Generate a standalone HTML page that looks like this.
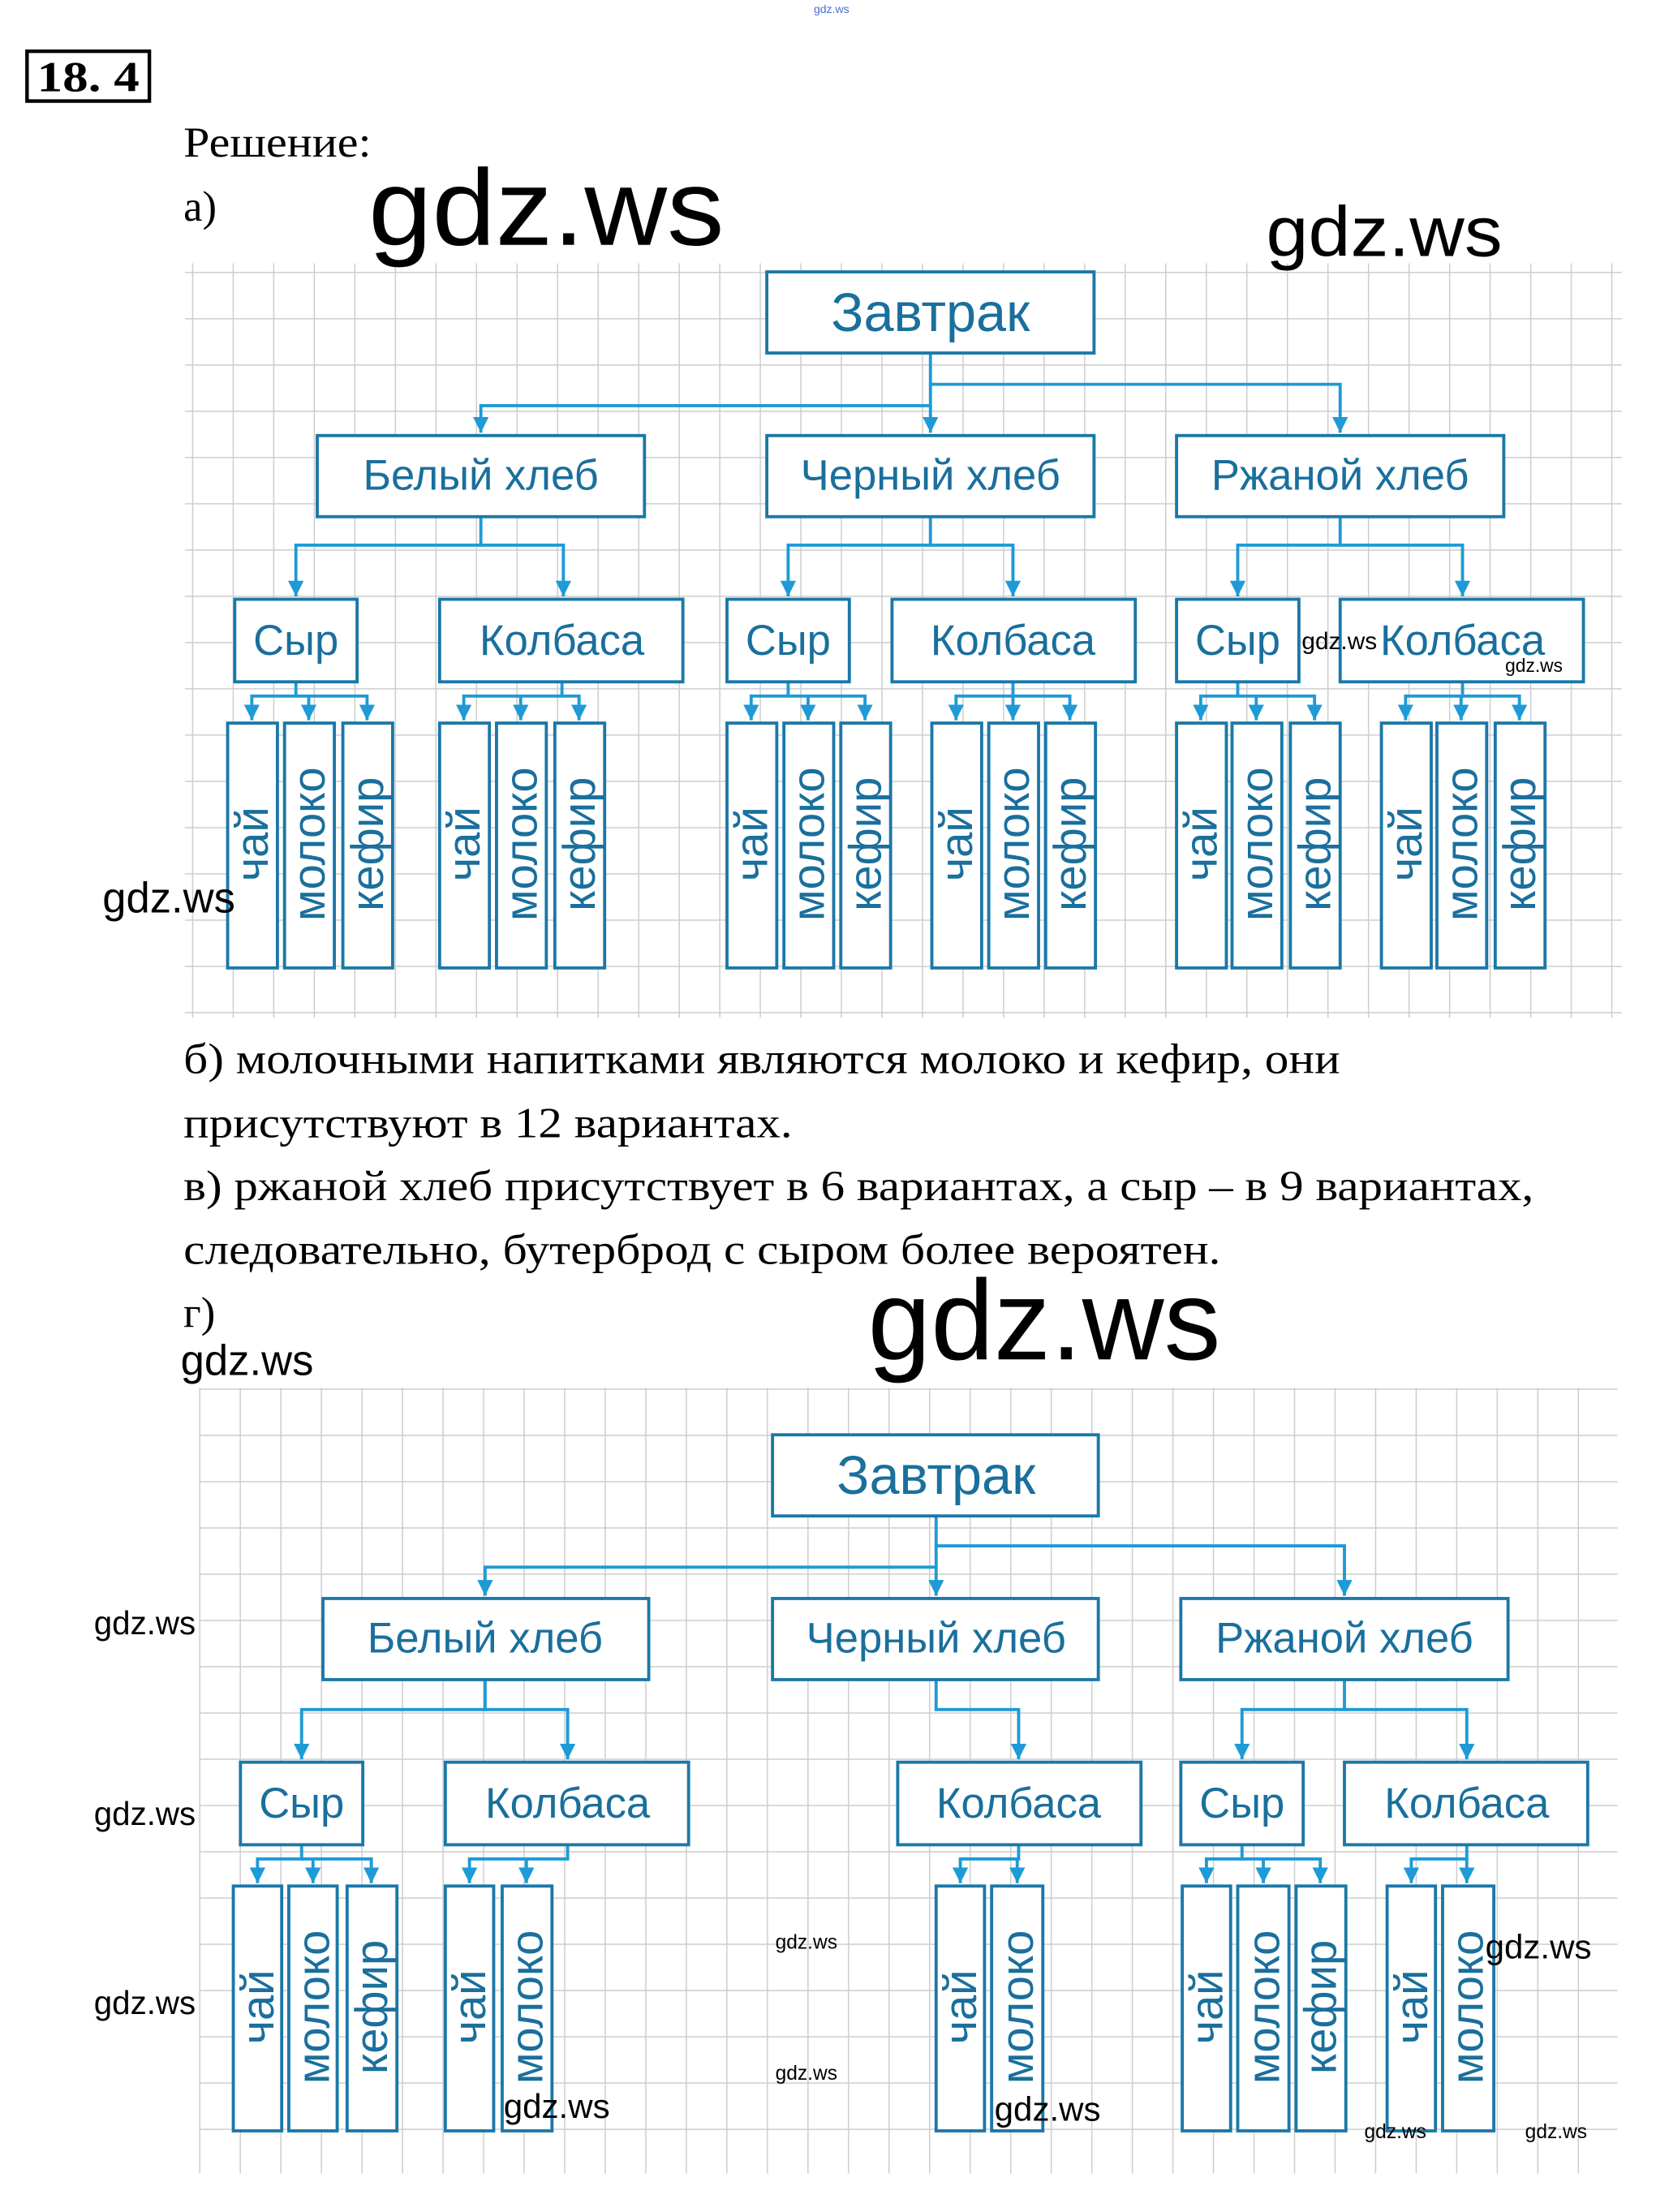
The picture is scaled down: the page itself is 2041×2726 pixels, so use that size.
<!DOCTYPE html>
<html><head><meta charset="utf-8"><style>
html,body{margin:0;padding:0;background:#fff;}
svg{display:block;}
.bx{fill:#fff;stroke:#1b78a8;stroke-width:2.2;}
.ln{fill:none;stroke:#1e9ad6;stroke-width:2.2;}
.t{font-family:"Liberation Sans","DejaVu Sans",sans-serif;fill:#1a6f9c;text-anchor:middle;dominant-baseline:central;}
.s{font-family:"Liberation Serif",serif;fill:#000;}
.w{font-family:"Liberation Sans","DejaVu Sans",sans-serif;fill:#000;}
</style></head><body>
<svg width="2041" height="2726" viewBox="0 0 1164 1554" preserveAspectRatio="none" xmlns="http://www.w3.org/2000/svg">
<defs>
<pattern id="g1" x="135" y="191" width="28.5" height="32.5" patternUnits="userSpaceOnUse">
<path d="M0 0V32.5M0 0H28.5" stroke="#cdcdcd" stroke-width="1.7" fill="none"/></pattern>
<pattern id="g2" x="140" y="1008" width="28.5" height="32.5" patternUnits="userSpaceOnUse">
<path d="M0 0V32.5M0 0H28.5" stroke="#cdcdcd" stroke-width="1.7" fill="none"/></pattern>
<marker id="ar" viewBox="0 0 10 10" refX="10" refY="5" markerWidth="11" markerHeight="11" markerUnits="userSpaceOnUse" orient="auto">
<path d="M0 0L10 5L0 10z" fill="#1e9ad6"/></marker>
</defs>
<rect width="1164" height="1554" fill="#fff"/>
<rect x="130" y="185" width="1010" height="530" fill="url(#g1)"/>
<rect x="140" y="975" width="997" height="552" fill="url(#g2)"/>

<text x="572" y="9" font-size="8" fill="#4a6fd0" font-family="Liberation Sans,sans-serif">gdz.ws</text>
<rect x="19" y="36" width="86" height="35" fill="none" stroke="#000" stroke-width="2.5"/>
<text x="62" y="64" class="s" font-size="30" font-weight="bold" text-anchor="middle" textLength="72" lengthAdjust="spacingAndGlyphs">18. 4</text>
<text x="129" y="110" class="s" font-size="30" textLength="132" lengthAdjust="spacingAndGlyphs">Решение:</text>
<text x="129" y="155" class="s" font-size="30">а)</text>
<text x="259" y="172" class="w" font-size="76" textLength="250" lengthAdjust="spacingAndGlyphs">gdz.ws</text>
<text x="890" y="180" class="w" font-size="50" textLength="166" lengthAdjust="spacingAndGlyphs">gdz.ws</text>

<path class="ln" d="M654 248V270H942V304" marker-end="url(#ar)"/>
<path class="ln" d="M654 270V304" marker-end="url(#ar)"/>
<path class="ln" d="M654 285H338V304" marker-end="url(#ar)"/>
<path class="ln" d="M338 363V383H208V419" marker-end="url(#ar)"/>
<path class="ln" d="M338 383H396V419" marker-end="url(#ar)"/>
<path class="ln" d="M654 363V383H554V419" marker-end="url(#ar)"/>
<path class="ln" d="M654 383H712V419" marker-end="url(#ar)"/>
<path class="ln" d="M942 363V383H870V419" marker-end="url(#ar)"/>
<path class="ln" d="M942 383H1028V419" marker-end="url(#ar)"/>
<path class="ln" d="M208 479V489H177V506" marker-end="url(#ar)"/><path class="ln" d="M208 489H258V506" marker-end="url(#ar)"/><path class="ln" d="M217 489V506" marker-end="url(#ar)"/>
<path class="ln" d="M395 479V489H326V506" marker-end="url(#ar)"/><path class="ln" d="M395 489H407V506" marker-end="url(#ar)"/><path class="ln" d="M366 489V506" marker-end="url(#ar)"/>
<path class="ln" d="M554 479V489H528V506" marker-end="url(#ar)"/><path class="ln" d="M554 489H608V506" marker-end="url(#ar)"/><path class="ln" d="M568 489V506" marker-end="url(#ar)"/>
<path class="ln" d="M712 479V489H672V506" marker-end="url(#ar)"/><path class="ln" d="M712 489H752V506" marker-end="url(#ar)"/><path class="ln" d="M712 489V506" marker-end="url(#ar)"/>
<path class="ln" d="M870 479V489H844V506" marker-end="url(#ar)"/><path class="ln" d="M870 489H924V506" marker-end="url(#ar)"/><path class="ln" d="M883 489V506" marker-end="url(#ar)"/>
<path class="ln" d="M1028 479V489H988V506" marker-end="url(#ar)"/><path class="ln" d="M1028 489H1068V506" marker-end="url(#ar)"/><path class="ln" d="M1027 489V506" marker-end="url(#ar)"/>

<rect class="bx" x="539" y="191" width="230" height="57"/><text class="t" x="654" y="220" font-size="38">Завтрак</text>
<rect class="bx" x="223" y="306" width="230" height="57"/><text class="t" x="338" y="334" font-size="30">Белый хлеб</text>
<rect class="bx" x="539" y="306" width="230" height="57"/><text class="t" x="654" y="334" font-size="30">Черный хлеб</text>
<rect class="bx" x="827" y="306" width="230" height="57"/><text class="t" x="942" y="334" font-size="30">Ржаной хлеб</text>
<rect class="bx" x="165" y="421" width="86" height="58"/><text class="t" x="208" y="450" font-size="30">Сыр</text>
<rect class="bx" x="309" y="421" width="171" height="58"/><text class="t" x="395" y="450" font-size="30">Колбаса</text>
<rect class="bx" x="511" y="421" width="86" height="58"/><text class="t" x="554" y="450" font-size="30">Сыр</text>
<rect class="bx" x="627" y="421" width="171" height="58"/><text class="t" x="712" y="450" font-size="30">Колбаса</text>
<rect class="bx" x="827" y="421" width="86" height="58"/><text class="t" x="870" y="450" font-size="30">Сыр</text>
<rect class="bx" x="942" y="421" width="171" height="58"/><text class="t" x="1028" y="450" font-size="30">Колбаса</text>

<g font-size="32">
<rect class="bx" x="160" y="508" width="35" height="172"/><text class="t" transform="translate(177,593) rotate(-90)">чай</text>
<rect class="bx" x="200" y="508" width="35" height="172"/><text class="t" transform="translate(217,593) rotate(-90)">молоко</text>
<rect class="bx" x="241" y="508" width="35" height="172"/><text class="t" transform="translate(258,593) rotate(-90)">кефир</text>
<rect class="bx" x="309" y="508" width="35" height="172"/><text class="t" transform="translate(326,593) rotate(-90)">чай</text>
<rect class="bx" x="349" y="508" width="35" height="172"/><text class="t" transform="translate(366,593) rotate(-90)">молоко</text>
<rect class="bx" x="390" y="508" width="35" height="172"/><text class="t" transform="translate(407,593) rotate(-90)">кефир</text>
<rect class="bx" x="511" y="508" width="35" height="172"/><text class="t" transform="translate(528,593) rotate(-90)">чай</text>
<rect class="bx" x="551" y="508" width="35" height="172"/><text class="t" transform="translate(568,593) rotate(-90)">молоко</text>
<rect class="bx" x="591" y="508" width="35" height="172"/><text class="t" transform="translate(608,593) rotate(-90)">кефир</text>
<rect class="bx" x="655" y="508" width="35" height="172"/><text class="t" transform="translate(672,593) rotate(-90)">чай</text>
<rect class="bx" x="695" y="508" width="35" height="172"/><text class="t" transform="translate(712,593) rotate(-90)">молоко</text>
<rect class="bx" x="735" y="508" width="35" height="172"/><text class="t" transform="translate(752,593) rotate(-90)">кефир</text>
<rect class="bx" x="827" y="508" width="35" height="172"/><text class="t" transform="translate(844,593) rotate(-90)">чай</text>
<rect class="bx" x="866" y="508" width="35" height="172"/><text class="t" transform="translate(883,593) rotate(-90)">молоко</text>
<rect class="bx" x="907" y="508" width="35" height="172"/><text class="t" transform="translate(924,593) rotate(-90)">кефир</text>
<rect class="bx" x="971" y="508" width="35" height="172"/><text class="t" transform="translate(988,593) rotate(-90)">чай</text>
<rect class="bx" x="1010" y="508" width="35" height="172"/><text class="t" transform="translate(1027,593) rotate(-90)">молоко</text>
<rect class="bx" x="1051" y="508" width="35" height="172"/><text class="t" transform="translate(1068,593) rotate(-90)">кефир</text>
</g>
<text x="915" y="456" class="w" font-size="17">gdz.ws</text>
<text x="1058" y="472" class="w" font-size="13">gdz.ws</text>
<text x="72" y="641" class="w" font-size="30">gdz.ws</text>

<text x="129" y="754" class="s" font-size="30" textLength="813" lengthAdjust="spacingAndGlyphs">б) молочными напитками являются молоко и кефир, они</text>
<text x="129" y="799" class="s" font-size="30" textLength="428" lengthAdjust="spacingAndGlyphs">присутствуют в 12 вариантах.</text>
<text x="129" y="843" class="s" font-size="30" textLength="949" lengthAdjust="spacingAndGlyphs">в) ржаной хлеб присутствует в 6 вариантах, а сыр – в 9 вариантах,</text>
<text x="129" y="888" class="s" font-size="30" textLength="729" lengthAdjust="spacingAndGlyphs">следовательно, бутерброд с сыром более вероятен.</text>
<text x="129" y="932" class="s" font-size="30">г)</text>
<text x="127" y="966" class="w" font-size="30">gdz.ws</text>
<text x="610" y="955" class="w" font-size="80" textLength="248" lengthAdjust="spacingAndGlyphs">gdz.ws</text>

<path class="ln" d="M658 1065V1086H945V1121" marker-end="url(#ar)"/>
<path class="ln" d="M658 1086V1121" marker-end="url(#ar)"/>
<path class="ln" d="M658 1101H341V1121" marker-end="url(#ar)"/>
<path class="ln" d="M341 1180V1201H212V1236" marker-end="url(#ar)"/>
<path class="ln" d="M341 1201H399V1236" marker-end="url(#ar)"/>
<path class="ln" d="M658 1180V1201H716V1236" marker-end="url(#ar)"/>
<path class="ln" d="M945 1180V1201H873V1236" marker-end="url(#ar)"/>
<path class="ln" d="M945 1201H1031V1236" marker-end="url(#ar)"/>
<path class="ln" d="M212 1296V1306H181V1323" marker-end="url(#ar)"/><path class="ln" d="M212 1306H261V1323" marker-end="url(#ar)"/><path class="ln" d="M220 1306V1323" marker-end="url(#ar)"/>
<path class="ln" d="M399 1296V1306H330V1323" marker-end="url(#ar)"/><path class="ln" d="M370 1306V1323" marker-end="url(#ar)"/>
<path class="ln" d="M716 1296V1306H675V1323" marker-end="url(#ar)"/><path class="ln" d="M715 1306V1323" marker-end="url(#ar)"/>
<path class="ln" d="M873 1296V1306H848V1323" marker-end="url(#ar)"/><path class="ln" d="M873 1306H928V1323" marker-end="url(#ar)"/><path class="ln" d="M888 1306V1323" marker-end="url(#ar)"/>
<path class="ln" d="M1031 1296V1306H992V1323" marker-end="url(#ar)"/><path class="ln" d="M1031 1306V1323" marker-end="url(#ar)"/>

<rect class="bx" x="543" y="1008" width="229" height="57"/><text class="t" x="658" y="1037" font-size="38">Завтрак</text>
<rect class="bx" x="227" y="1123" width="229" height="57"/><text class="t" x="341" y="1151" font-size="30">Белый хлеб</text>
<rect class="bx" x="543" y="1123" width="229" height="57"/><text class="t" x="658" y="1151" font-size="30">Черный хлеб</text>
<rect class="bx" x="830" y="1123" width="230" height="57"/><text class="t" x="945" y="1151" font-size="30">Ржаной хлеб</text>
<rect class="bx" x="169" y="1238" width="86" height="58"/><text class="t" x="212" y="1267" font-size="30">Сыр</text>
<rect class="bx" x="313" y="1238" width="171" height="58"/><text class="t" x="399" y="1267" font-size="30">Колбаса</text>
<rect class="bx" x="631" y="1238" width="171" height="58"/><text class="t" x="716" y="1267" font-size="30">Колбаса</text>
<rect class="bx" x="830" y="1238" width="86" height="58"/><text class="t" x="873" y="1267" font-size="30">Сыр</text>
<rect class="bx" x="945" y="1238" width="171" height="58"/><text class="t" x="1031" y="1267" font-size="30">Колбаса</text>

<g font-size="32">
<rect class="bx" x="164" y="1325" width="34" height="172"/><text class="t" transform="translate(181,1410) rotate(-90)">чай</text>
<rect class="bx" x="203" y="1325" width="34" height="172"/><text class="t" transform="translate(220,1410) rotate(-90)">молоко</text>
<rect class="bx" x="244" y="1325" width="35" height="172"/><text class="t" transform="translate(261,1410) rotate(-90)">кефир</text>
<rect class="bx" x="313" y="1325" width="34" height="172"/><text class="t" transform="translate(330,1410) rotate(-90)">чай</text>
<rect class="bx" x="353" y="1325" width="35" height="172"/><text class="t" transform="translate(370,1410) rotate(-90)">молоко</text>
<rect class="bx" x="658" y="1325" width="34" height="172"/><text class="t" transform="translate(675,1410) rotate(-90)">чай</text>
<rect class="bx" x="697" y="1325" width="36" height="172"/><text class="t" transform="translate(715,1410) rotate(-90)">молоко</text>
<rect class="bx" x="831" y="1325" width="34" height="172"/><text class="t" transform="translate(848,1410) rotate(-90)">чай</text>
<rect class="bx" x="870" y="1325" width="36" height="172"/><text class="t" transform="translate(888,1410) rotate(-90)">молоко</text>
<rect class="bx" x="911" y="1325" width="35" height="172"/><text class="t" transform="translate(928,1410) rotate(-90)">кефир</text>
<rect class="bx" x="975" y="1325" width="34" height="172"/><text class="t" transform="translate(992,1410) rotate(-90)">чай</text>
<rect class="bx" x="1014" y="1325" width="36" height="172"/><text class="t" transform="translate(1031,1410) rotate(-90)">молоко</text>
</g>
<text x="66" y="1148" class="w" font-size="23">gdz.ws</text>
<text x="66" y="1282" class="w" font-size="23">gdz.ws</text>
<text x="66" y="1415" class="w" font-size="23">gdz.ws</text>
<text x="545" y="1369" class="w" font-size="14">gdz.ws</text>
<text x="545" y="1461" class="w" font-size="14">gdz.ws</text>
<text x="354" y="1488" class="w" font-size="24">gdz.ws</text>
<text x="699" y="1490" class="w" font-size="24">gdz.ws</text>
<text x="1044" y="1376" class="w" font-size="24">gdz.ws</text>
<text x="959" y="1502" class="w" font-size="14">gdz.ws</text>
<text x="1072" y="1502" class="w" font-size="14">gdz.ws</text>
</svg>
</body></html>
